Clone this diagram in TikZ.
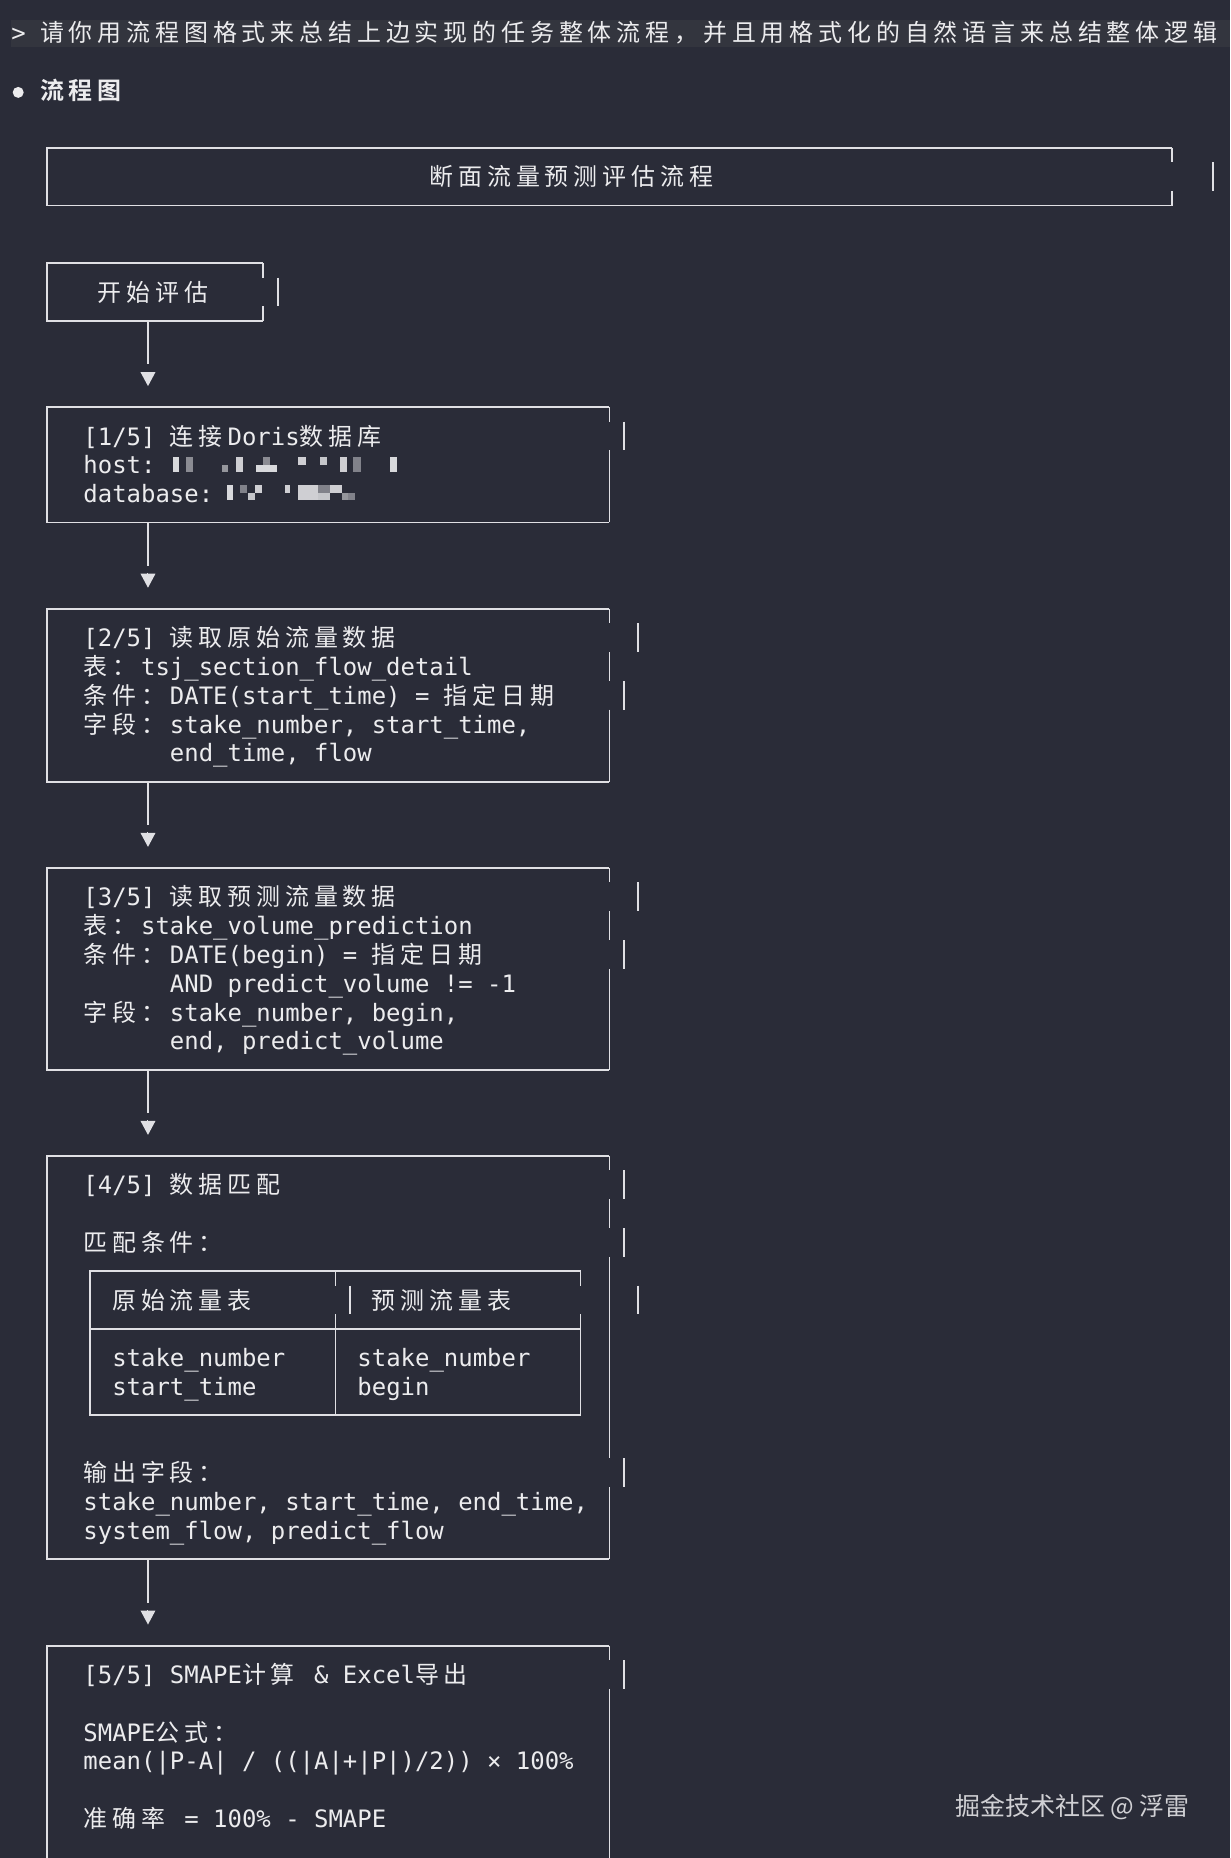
\documentclass[tikz,border=0pt]{standalone}
\usepackage{fontspec}
\usetikzlibrary{arrows.meta, fit, calc}

\newfontfamily\termfont{DejaVu Sans Mono}
\newfontfamily\cjkfont[BoldFont={Noto Sans CJK SC Bold}]{Noto Sans CJK SC}
\newcommand\tsize{\fontsize{13.63pt}{16.4pt}\selectfont}

\definecolor{termbg}{RGB}{42,44,56}
\definecolor{promptbg}{RGB}{51,53,62}
\definecolor{termfg}{RGB}{236,236,238}
\definecolor{framec}{RGB}{224,224,228}
\definecolor{markc}{RGB}{208,208,212}

% terminal grid: 14.42px cells, 28.8px lines
\newcommand\xc[1]{(11+14.42*(#1))}
\newcommand\yr[1]{(4+28.8*(#1))}

% wide glyphs take two cells
\newlength\cjw \setlength\cjw{16.41pt}
\def\cjend{}
\def\cjloop#1{\ifx#1\cjend\else\makebox[\cjw][l]{#1}\expandafter\cjloop\fi}
\newcommand\cj[1]{{\cjkfont\cjloop#1\cjend}}

\tikzset{
  term/.style  = {anchor=base west, inner sep=0pt, text=termfg, font=\termfont\tsize},
  boxn/.style  = {inner sep=0pt, outer sep=0pt},
  edge/.style  = {framec, line width=0.036cm},
  dot/.style   = {circle, fill=termfg, inner sep=0pt, minimum size=0.22cm},
  link/.style  = {edge, shorten >=0.862cm},
  head/.style  = {framec, line width=0pt,
                  -{Triangle[length=0.28cm, width=0.3cm, line width=0pt]}},
  wmark/.style = {anchor=base west, inner sep=0pt, text=markc,
                  font=\cjkfont\fontsize{14.2pt}{17pt}\selectfont}
}

% one row segment of a right border
\newcommand\rseg[2]{\draw[edge] ({\xc{#2+0.5}},{\yr{#1}-14.4}) -- ++(0,28.8);}
% frame of a box, right border given row by row
\newcommand\termbox[2]{%
  \draw[edge] (#1.north east) -- (#1.north west) -- (#1.south west) -- (#1.south east);
  \draw[edge] (#1.north east) -- ++(0,14.4);
  \draw[edge] (#1.south east) -- ++(0,-14.4);
  \foreach \r/\c in {#2} {\rseg{\r}{\c}}
}

\begin{document}
\frenchspacing
\begin{tikzpicture}[x=0.02cm, y=-0.02cm]
  \useasboundingbox (0,0) rectangle (1230,1858);
  \clip (0,0) rectangle (1230,1858);
  \fill[termbg] (0,0) rectangle (1230,1858);
  \fill[promptbg] (11,20) rectangle (1230,47);

  % ── prompt and heading ────────────────────────────────────────────────
  \node[term] (prompt) at ({\xc{0}},{\yr{1}+9})
        {> \cj{请你用流程图格式来总结上边实现的任务整体流程，并且用格式化的自然语言来总结整体逻辑}};
  \node[dot]  (bullet) at ({\xc{0.5}},{\yr{3}+2}) {};
  \node[term] (head)   at ({\xc{2}},{\yr{3}+9}) {\bfseries\cj{流程图}};

  % ── title ─────────────────────────────────────────────────────────────
  \node[boxn, fit={({\xc{2.5}},{\yr{5}}) ({\xc{80.5}},{\yr{7}})}] (title) {};
  \termbox{title}{6/82.86}
  \node[term] (titletxt) at ({\xc{29}},{\yr{6}+9}) {\cj{断面流量预测评估流程}};

  % ── start ─────────────────────────────────────────────────────────────
  \node[boxn, fit={({\xc{2.5}},{\yr{9}}) ({\xc{17.5}},{\yr{11}})}] (s0) {};
  \termbox{s0}{10/18}
  \node[term] (s0txt) at ({\xc{6}},{\yr{10}+9}) {\cj{开始评估}};

  % ── [1/5] Doris ───────────────────────────────────────────────────────
  \node[boxn, fit={({\xc{2.5}},{\yr{14}}) ({\xc{41.5}},{\yr{18}})}] (b1) {};
  \termbox{b1}{15/42, 16/41, 17/41}
  \node[term] (b1a) at ({\xc{5}},{\yr{15}+9}) {[1/5] \cj{连接}Doris\cj{数据库}};
  \node[term] (b1b) at ({\xc{5}},{\yr{16}+9}) {host:};
  \node[term] (b1c) at ({\xc{5}},{\yr{17}+9}) {database:};
  % masked values
  \foreach \xa/\xb/\ya/\yb/\g in {173/179/457/472/90, 186/193/457/472/50,
      222/228/464.5/472/55, 236/243/457/472/85, 256/277/464.5/472/90,
      263/270/457/464.5/50, 298/306/457/464.5/85, 320/327/457/464.5/80,
      340/347/457/472/85, 353/361/457/472/45, 390/397/457/472/90,
      227/233/485/500/90, 240/247/485/492.5/45, 248/255/492.5/500/80,
      255/262/485/492.5/85, 285/290/485/492.5/85, 298/318/485/500/85,
      318/330/485/492.5/45, 318/330/492.5/500/80, 330/342/485/492.5/85,
      342/348/492.5/500/55, 348/355/492.5/500/45}
    \fill[termfg!\g!termbg] (\xa,\ya) rectangle (\xb,\yb);

  % ── [2/5] raw flow ────────────────────────────────────────────────────
  \node[boxn, fit={({\xc{2.5}},{\yr{21}}) ({\xc{41.5}},{\yr{27}})}] (b2) {};
  \termbox{b2}{22/43, 23/41, 24/42, 25/41, 26/41}
  \node[term] (b2a) at ({\xc{5}},{\yr{22}+9}) {[2/5] \cj{读取原始流量数据}};
  \node[term] (b2b) at ({\xc{5}},{\yr{23}+9}) {\cj{表：}tsj\_section\_flow\_detail};
  \node[term] (b2c) at ({\xc{5}},{\yr{24}+9}) {\cj{条件：}DATE(start\_time) = \cj{指定日期}};
  \node[term] (b2d) at ({\xc{5}},{\yr{25}+9}) {\cj{字段：}stake\_number, start\_time,};
  \node[term] (b2e) at ({\xc{11}},{\yr{26}+9}) {end\_time, flow};

  % ── [3/5] predicted flow ──────────────────────────────────────────────
  \node[boxn, fit={({\xc{2.5}},{\yr{30}}) ({\xc{41.5}},{\yr{37}})}] (b3) {};
  \termbox{b3}{31/43, 32/41, 33/42, 34/41, 35/41, 36/41}
  \node[term] (b3a) at ({\xc{5}},{\yr{31}+9}) {[3/5] \cj{读取预测流量数据}};
  \node[term] (b3b) at ({\xc{5}},{\yr{32}+9}) {\cj{表：}stake\_volume\_prediction};
  \node[term] (b3c) at ({\xc{5}},{\yr{33}+9}) {\cj{条件：}DATE(begin) = \cj{指定日期}};
  \node[term] (b3d) at ({\xc{11}},{\yr{34}+9}) {AND predict\_volume != -1};
  \node[term] (b3e) at ({\xc{5}},{\yr{35}+9}) {\cj{字段：}stake\_number, begin,};
  \node[term] (b3f) at ({\xc{11}},{\yr{36}+9}) {end, predict\_volume};

  % ── [4/5] matching ────────────────────────────────────────────────────
  \node[boxn, fit={({\xc{2.5}},{\yr{40}}) ({\xc{41.5}},{\yr{54}})}] (b4) {};
  \termbox{b4}{41/42, 42/41, 43/42, 44/41, 45/43, 46/41, 47/41, 48/41,
               49/41, 50/41, 51/42, 52/41, 53/41}
  \node[term] (b4a) at ({\xc{5}},{\yr{41}+9}) {[4/5] \cj{数据匹配}};
  \node[term] (b4b) at ({\xc{5}},{\yr{43}+9}) {\cj{匹配条件：}};
  \node[term] (b4c) at ({\xc{5}},{\yr{51}+9}) {\cj{输出字段：}};
  \node[term] (b4d) at ({\xc{5}},{\yr{52}+9}) {stake\_number, start\_time, end\_time,};
  \node[term] (b4e) at ({\xc{5}},{\yr{53}+9}) {system\_flow, predict\_flow};

  % match table
  \node[boxn, fit={({\xc{5.5}},{\yr{44}}) ({\xc{39.5}},{\yr{49}})}] (tbl) {};
  \termbox{tbl}{45/41, 46/39, 47/39, 48/39}
  \draw[edge] ({\xc{5.5}},{\yr{46}}) -- ({\xc{39.5}},{\yr{46}});
  \draw[edge] ({\xc{22.5}},{\yr{44}}) -- ++(0,14.4);
  \rseg{45}{23}
  \draw[edge] ({\xc{22.5}},{\yr{46}-14.4}) -- ({\xc{22.5}},{\yr{49}});
  \node[term] (th1) at ({\xc{7}},{\yr{45}+9})  {\cj{原始流量表}};
  \node[term] (th2) at ({\xc{25}},{\yr{45}+9}) {\cj{预测流量表}};
  \node[term] (td1) at ({\xc{7}},{\yr{47}+9})  {stake\_number};
  \node[term] (td2) at ({\xc{7}},{\yr{48}+9})  {start\_time};
  \node[term] (td3) at ({\xc{24}},{\yr{47}+9}) {stake\_number};
  \node[term] (td4) at ({\xc{24}},{\yr{48}+9}) {begin};

  % ── [5/5] SMAPE ───────────────────────────────────────────────────────
  \node[boxn, fit={({\xc{2.5}},{\yr{57}}) ({\xc{41.5}},{\yr{66}})}] (b5) {};
  \termbox{b5}{58/42, 59/41, 60/41, 61/41, 62/41, 63/41, 64/41, 65/41}
  \node[term] (b5a) at ({\xc{5}},{\yr{58}+9}) {[5/5] SMAPE\cj{计算} \& Excel\cj{导出}};
  \node[term] (b5b) at ({\xc{5}},{\yr{60}+9}) {SMAPE\cj{公式：}};
  \node[term] (b5c) at ({\xc{5}},{\yr{61}+9}) {mean(|P-A| / ((|A|+|P|)/2)) × 100\%};
  \node[term] (b5d) at ({\xc{5}},{\yr{63}+9}) {\cj{准确率} = 100\% - SMAPE};

  % ── flow arrows: stem, then a detached head ───────────────────────────
  \coordinate (ax) at ({\xc{9.5}},0);
  \foreach \a/\b in {s0/b1, b1/b2, b2/b3, b3/b4, b4/b5} {
    \draw[link] (\a.south -| ax) -- (\b.north -| ax);
    \draw[head] ($(\b.north -| ax)+(0,-35.1)$) -- ($(\b.north -| ax)+(0,-21.1)$);
  }

  % watermark
  \node[wmark] (wm) at (955,1815) {掘金技术社区 @ 浮雷};
\end{tikzpicture}
\end{document}
